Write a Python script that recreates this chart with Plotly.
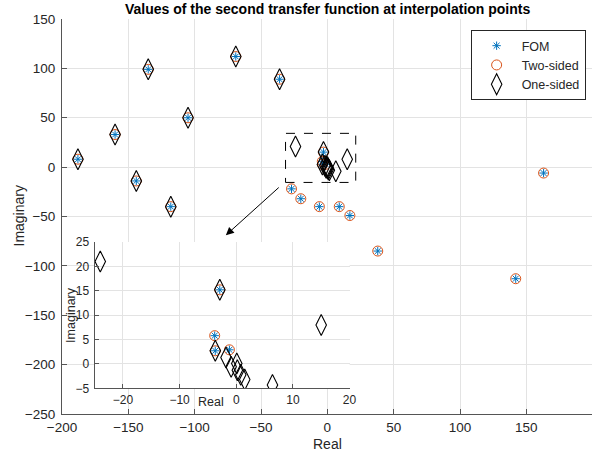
import plotly.graph_objects as go

# ---- data ----
fom_re = [-188, -160, -135, -144, -118, -105, -69, -36, -27, -20, -6, 9, 17, 38, 142, 163, -2.9, -3.8, -3.7, -1.2]
fom_im = [8, 33, 99, -14, -40, 50, 112, 89, -22, -32, -40, -40, -49, -85, -113, -6, 15.2, 5.8, 2.7, 2.9]

two_re = [-188, -160, -135, -144, -118, -105, -69, -36, -27, -20, -6, 9, 17, 38, 142, 163, -2.9, -3.8, -3.7, -1.2]
two_im = [8, 33, 99, -14, -40, 50, 112, 89, -22, -32, -40, -40, -49, -85, -113, -6, 15.2, 5.8, 2.7, 2.9]

one_re = [-188, -160, -135, -144, -118, -105, -69, -36, -24, -2.9, -3.7, 15, 6.4, -1.8, 0.1, -0.9, 0.2, 0.8, 1.5]
one_im = [8, 33, 99, -14, -40, 50, 112, 89, 21, 15.2, 2.7, 8, -4.3, 1.3, 0.1, -0.6, -1.3, -2.2, -3.2]

main_xticks = [-200, -150, -100, -50, 0, 50, 100, 150]
main_yticks = [-250, -200, -150, -100, -50, 0, 50, 100, 150]
inset_xticks = [-20, -10, 0, 10, 20]
inset_yticks = [-5, 0, 5, 10, 15, 20, 25]

zoom_box = dict(x0=-31.5, x1=21.4, y0=-15.5, y1=34.2)

BLUE = "#0072BD"
ORANGE = "#D95319"
FONT = "Liberation Sans, Arial, Helvetica, sans-serif"
TXT = "#262626"
GRID = "#e3e3e3"
AXL = "#555555"

fig = go.Figure()

def add_series(xa, ya, show):
    fig.add_trace(go.Scatter(x=fom_re, y=fom_im, mode="markers", name="FOM",
                             xaxis=xa, yaxis=ya, showlegend=show,
                             marker=dict(symbol="asterisk-open", size=7, color=BLUE,
                                         line=dict(color=BLUE, width=1))))
    fig.add_trace(go.Scatter(x=two_re, y=two_im, mode="markers", name="Two-sided",
                             xaxis=xa, yaxis=ya, showlegend=show,
                             marker=dict(symbol="circle-open", size=10, color=ORANGE,
                                         line=dict(color=ORANGE, width=1))))
    fig.add_trace(go.Scatter(x=one_re, y=one_im, mode="markers", name="One-sided",
                             xaxis=xa, yaxis=ya, showlegend=show,
                             marker=dict(symbol="diamond-tall-open", size=15, color="black",
                                         line=dict(color="black", width=1.1))))

add_series("x", "y", True)
add_series("x2", "y2", False)

axis_common = dict(showgrid=True, gridcolor=GRID, gridwidth=1, zeroline=False,
                   showline=True, linecolor=AXL, linewidth=1, ticks="inside",
                   tickcolor=AXL, mirror=False)

fig.update_layout(
    width=607, height=456,
    margin=dict(l=62, r=8, t=19, b=42),
    paper_bgcolor="white", plot_bgcolor="white",
    font=dict(family=FONT, color=TXT),
    xaxis=dict(range=[-200, 199.5], tickvals=main_xticks, ticklen=5,
               ticklabelstandoff=1, tickfont=dict(family=FONT, color=TXT, size=13.5),
               **axis_common),
    yaxis=dict(range=[-250, 150], tickvals=main_yticks, ticklen=5,
               ticklabelstandoff=3, tickfont=dict(family=FONT, color=TXT, size=13.5),
               **axis_common),
    xaxis2=dict(domain=[0.0615, 0.5425], anchor="y2", range=[-25, 20], tickvals=inset_xticks,
                ticklen=4, ticklabelstandoff=0, tickfont=dict(family=FONT, color=TXT, size=12),
                **axis_common),
    yaxis2=dict(domain=[0.065, 0.4354], anchor="x2", range=[-5, 25], tickvals=inset_yticks,
                ticklen=4, ticklabelstandoff=2, tickfont=dict(family=FONT, color=TXT, size=12),
                **axis_common),
    legend=dict(x=0.771, y=0.972, xanchor="left", yanchor="top",
                bgcolor="white", bordercolor=TXT, borderwidth=1,
                font=dict(family=FONT, size=12.5, color=TXT), itemwidth=40,
                tracegroupgap=0),
    showlegend=True,
)

# white background for inset + dashed zoom box
fig.add_shape(type="rect", xref="x2", yref="y2", x0=-25, x1=20, y0=-5, y1=25,
              fillcolor="white", line=dict(width=0), layer="below")
fig.add_shape(type="rect", xref="x", yref="y", **zoom_box,
              line=dict(color="black", width=1, dash="dash"), layer="above")

# arrow from zoom box to inset
fig.add_annotation(x=-76.5, y=-69, ax=-35.5, ay=-19.3, xref="x", yref="y",
                   axref="x", ayref="y", showarrow=True, arrowhead=2, arrowsize=1.6,
                   arrowwidth=1, arrowcolor="black", text="")

# titles
fig.add_annotation(text="<b>Values of the second transfer function at interpolation points</b>",
                   xref="paper", yref="paper", x=0.5, y=1.0, yshift=10, showarrow=False,
                   xanchor="center", yanchor="middle",
                   font=dict(family=FONT, size=14, color="black"))
fig.add_annotation(text="Real", xref="paper", yref="paper", x=0.5, y=0, yshift=-30,
                   showarrow=False, xanchor="center", yanchor="middle",
                   font=dict(family=FONT, size=14, color=TXT))
fig.add_annotation(text="Imaginary", xref="paper", yref="paper", x=0, xshift=-44, y=0.5,
                   textangle=-90, showarrow=False, xanchor="center", yanchor="middle",
                   font=dict(family=FONT, size=14, color=TXT))
# inset labels (overlapping tick labels as in the reference)
fig.add_annotation(text="Real", xref="paper", yref="paper", x=(212.7 - 62) / 537,
                   y=(414 - 402) / 395, showarrow=False, xanchor="center", yanchor="middle",
                   font=dict(family=FONT, size=12.5, color=TXT))
fig.add_annotation(text="Imaginary", xref="paper", yref="paper", x=(71 - 62) / 537,
                   y=(414 - 315) / 395, textangle=-90, showarrow=False,
                   xanchor="center", yanchor="middle",
                   font=dict(family=FONT, size=12.5, color=TXT))

fig.write_html("out.html")
